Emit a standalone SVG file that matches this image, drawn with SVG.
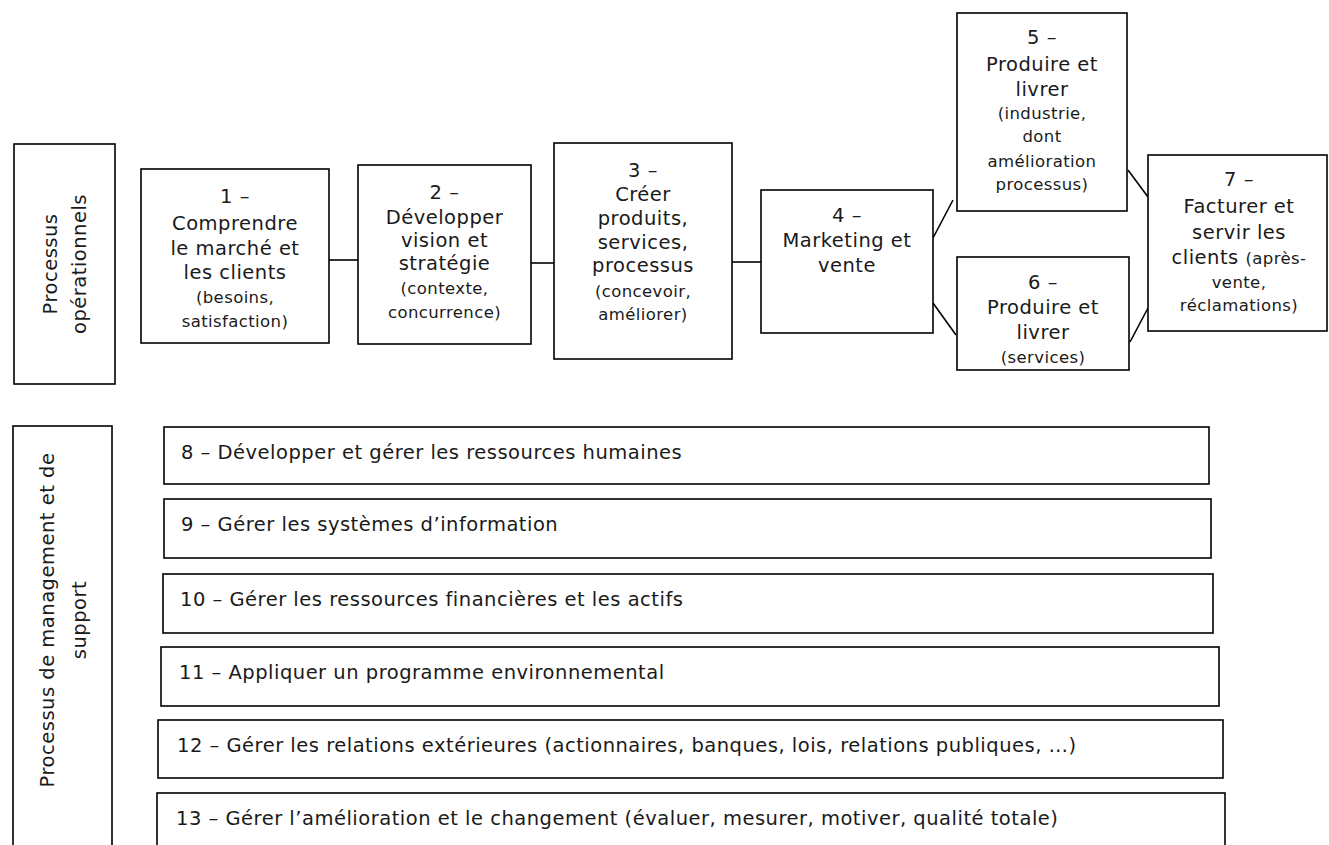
<svg xmlns="http://www.w3.org/2000/svg" width="1329" height="845" viewBox="0 0 1329 845">
  <style>
    .box { fill: #ffffff; stroke: #000000; stroke-width: 1.6; }
    .link { fill: none; stroke: #000000; stroke-width: 1.6; }
    text { font-family: "DejaVu Sans", "Liberation Sans", sans-serif; fill: #1a1a1a; }
    .t { font-size: 19.5px; letter-spacing: 0.5px; text-anchor: middle; }
    .s { font-size: 16.5px; letter-spacing: 0.4px; }
    .row { font-size: 19.5px; letter-spacing: 0.5px; text-anchor: start; }
  </style>
  <rect width="1329" height="845" fill="#ffffff"/>

  <!-- connectors between the operational process boxes -->
  <g id="connectors">
    <line class="link" x1="329" y1="260" x2="358" y2="260"/>
    <line class="link" x1="531" y1="263" x2="554" y2="263"/>
    <line class="link" x1="732" y1="262" x2="761" y2="262"/>
    <line class="link" x1="933" y1="238" x2="953" y2="200"/>
    <line class="link" x1="933" y1="303" x2="956" y2="335"/>
    <line class="link" x1="1128" y1="170" x2="1148" y2="197"/>
    <line class="link" x1="1130" y1="342" x2="1148" y2="308"/>
  </g>

  <!-- side label: operational processes -->
  <g id="label-operationnels">
    <rect class="box" x="14" y="144" width="101" height="240"/>
    <g transform="translate(0,264) rotate(-90)">
      <text class="t" x="0" y="57">Processus</text>
      <text class="t" x="0" y="86">opérationnels</text>
    </g>
  </g>

  <g id="node-1">
    <rect class="box" x="141" y="169" width="188" height="174"/>
    <text class="t" x="235" y="203">1 –</text>
    <text class="t" x="235" y="230">Comprendre</text>
    <text class="t" x="235" y="255">le marché et</text>
    <text class="t" x="235" y="279">les clients</text>
    <text class="t s" x="235" y="303">(besoins,</text>
    <text class="t s" x="235" y="327">satisfaction)</text>
  </g>

  <g id="node-2">
    <rect class="box" x="358" y="165" width="173" height="179"/>
    <text class="t" x="444.5" y="199">2 –</text>
    <text class="t" x="444.5" y="224">Développer</text>
    <text class="t" x="444.5" y="247">vision et</text>
    <text class="t" x="444.5" y="270">stratégie</text>
    <text class="t s" x="444.5" y="294">(contexte,</text>
    <text class="t s" x="444.5" y="318">concurrence)</text>
  </g>

  <g id="node-3">
    <rect class="box" x="554" y="143" width="178" height="216"/>
    <text class="t" x="643" y="177">3 –</text>
    <text class="t" x="643" y="201">Créer</text>
    <text class="t" x="643" y="225">produits,</text>
    <text class="t" x="643" y="249">services,</text>
    <text class="t" x="643" y="272">processus</text>
    <text class="t s" x="643" y="297">(concevoir,</text>
    <text class="t s" x="643" y="320">améliorer)</text>
  </g>

  <g id="node-4">
    <rect class="box" x="761" y="190" width="172" height="143"/>
    <text class="t" x="847" y="222">4 –</text>
    <text class="t" x="847" y="247">Marketing et</text>
    <text class="t" x="847" y="272">vente</text>
  </g>

  <g id="node-5">
    <rect class="box" x="957" y="13" width="170" height="198"/>
    <text class="t" x="1042" y="44">5 –</text>
    <text class="t" x="1042" y="71">Produire et</text>
    <text class="t" x="1042" y="96">livrer</text>
    <text class="t s" x="1042" y="119">(industrie,</text>
    <text class="t s" x="1042" y="142">dont</text>
    <text class="t s" x="1042" y="167">amélioration</text>
    <text class="t s" x="1042" y="190">processus)</text>
  </g>

  <g id="node-6">
    <rect class="box" x="957" y="257" width="172" height="113"/>
    <text class="t" x="1043" y="289">6 –</text>
    <text class="t" x="1043" y="314">Produire et</text>
    <text class="t" x="1043" y="339">livrer</text>
    <text class="t s" x="1043" y="363">(services)</text>
  </g>

  <g id="node-7">
    <rect class="box" x="1148" y="155" width="179" height="176"/>
    <text class="t" x="1239" y="186">7 –</text>
    <text class="t" x="1239" y="213">Facturer et</text>
    <text class="t" x="1239" y="239">servir les</text>
    <text class="t" x="1239" y="264">clients <tspan class="s">(après-</tspan></text>
    <text class="t s" x="1239" y="288">vente,</text>
    <text class="t s" x="1239" y="311">réclamations)</text>
  </g>

  <!-- side label: management and support processes -->
  <g id="label-support">
    <rect class="box" x="13" y="426" width="99" height="440"/>
    <g transform="translate(0,620) rotate(-90)">
      <text class="t" x="0" y="54">Processus de management et de</text>
      <text class="t" x="0" y="86">support</text>
    </g>
  </g>

  <g id="node-8">
    <rect class="box" x="164" y="427" width="1045" height="57"/>
    <text class="row" x="181" y="459">8 – Développer et gérer les ressources humaines</text>
  </g>

  <g id="node-9">
    <rect class="box" x="164" y="499" width="1047" height="59"/>
    <text class="row" x="181" y="531">9 – Gérer les systèmes d’information</text>
  </g>

  <g id="node-10">
    <rect class="box" x="163" y="574" width="1050" height="59"/>
    <text class="row" x="180" y="606">10 – Gérer les ressources financières et les actifs</text>
  </g>

  <g id="node-11">
    <rect class="box" x="161" y="647" width="1058" height="59"/>
    <text class="row" x="179" y="679">11 – Appliquer un programme environnemental</text>
  </g>

  <g id="node-12">
    <rect class="box" x="158" y="720" width="1065" height="58"/>
    <text class="row" x="177" y="752">12 – Gérer les relations extérieures (actionnaires, banques, lois, relations publiques, …)</text>
  </g>

  <g id="node-13">
    <rect class="box" x="157" y="793" width="1068" height="70"/>
    <text class="row" x="176" y="825">13 – Gérer l’amélioration et le changement (évaluer, mesurer, motiver, qualité totale)</text>
  </g>
</svg>
